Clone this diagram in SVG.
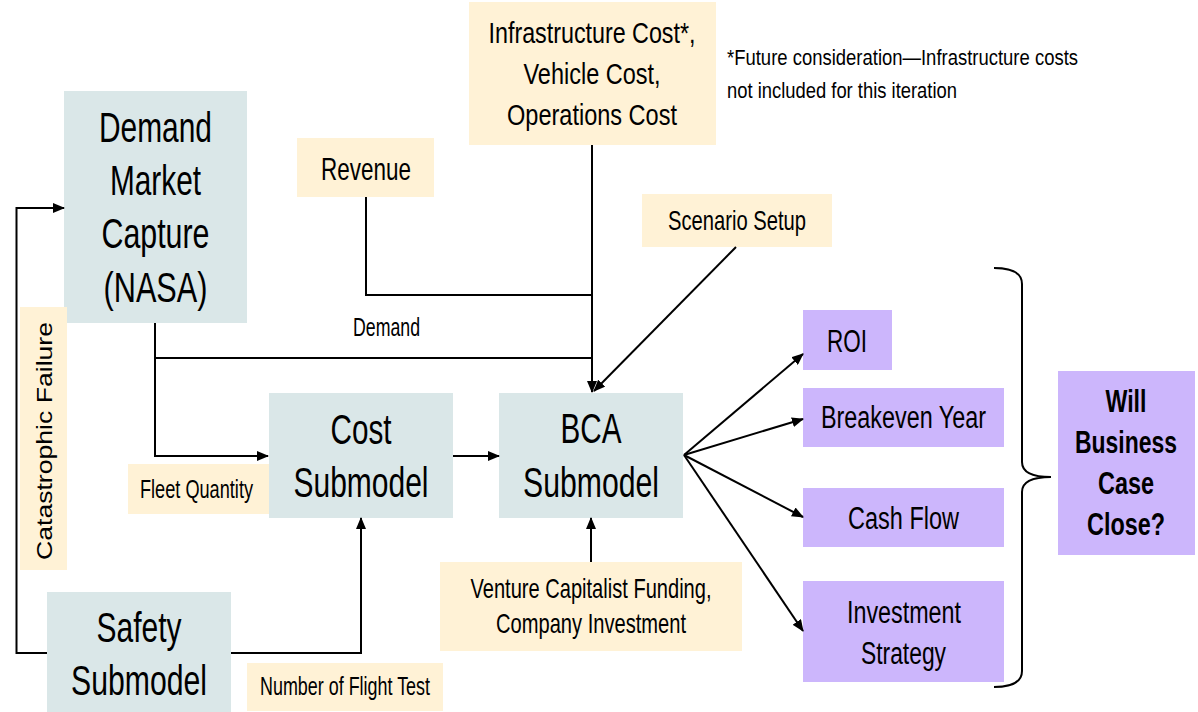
<svg xmlns="http://www.w3.org/2000/svg" width="1198" height="712" viewBox="0 0 1198 712">
  <defs>
    <style>
      .model { fill: #DAE7E8; }
      .input { fill: #FFF2D6; }
      .output { fill: #CCB6FC; }
      text { font-family: "Liberation Sans", Arial, sans-serif; fill: #000; text-anchor: middle; }
      .big { font-size: 42px; }
      .mid { font-size: 31px; }
      .small { font-size: 25px; }
      .bold { font-size: 32px; font-weight: bold; }
      .note { font-size: 22px; text-anchor: start; }
      .wire { fill: none; stroke: #000; stroke-width: 2; }
      .arrow { marker-end: url(#head); }
    </style>
    <marker id="head" markerUnits="userSpaceOnUse" markerWidth="12" markerHeight="10" refX="11" refY="5" orient="auto">
      <path d="M0,0 L12,5 L0,10 z" fill="#000"/>
    </marker>
  </defs>

  <rect width="1198" height="712" fill="#fff"/>

  <!-- submodels -->
  <g id="demand">
    <rect class="model" x="64" y="91" width="183" height="232"/>
    <text class="big" x="155.5" y="142" textLength="113" lengthAdjust="spacingAndGlyphs">Demand</text>
    <text class="big" x="155.5" y="195" textLength="91" lengthAdjust="spacingAndGlyphs">Market</text>
    <text class="big" x="155.5" y="248" textLength="108" lengthAdjust="spacingAndGlyphs">Capture</text>
    <text class="big" x="155.5" y="302" textLength="104" lengthAdjust="spacingAndGlyphs">(NASA)</text>
  </g>
  <g id="cost">
    <rect class="model" x="269" y="393" width="184" height="125"/>
    <text class="big" x="361" y="444" textLength="61" lengthAdjust="spacingAndGlyphs">Cost</text>
    <text class="big" x="361" y="497" textLength="135" lengthAdjust="spacingAndGlyphs">Submodel</text>
  </g>
  <g id="bca">
    <rect class="model" x="499" y="393" width="184" height="125"/>
    <text class="big" x="591" y="443" textLength="61" lengthAdjust="spacingAndGlyphs">BCA</text>
    <text class="big" x="591" y="497" textLength="136" lengthAdjust="spacingAndGlyphs">Submodel</text>
  </g>
  <g id="safety">
    <rect class="model" x="47" y="592" width="184" height="120"/>
    <text class="big" x="139" y="642" textLength="85" lengthAdjust="spacingAndGlyphs">Safety</text>
    <text class="big" x="139" y="695" textLength="136" lengthAdjust="spacingAndGlyphs">Submodel</text>
  </g>

  <!-- inputs -->
  <g id="costs">
    <rect class="input" x="469" y="2" width="247" height="143"/>
    <text style="font-size:30px" x="592" y="43" textLength="207" lengthAdjust="spacingAndGlyphs">Infrastructure Cost*,</text>
    <text style="font-size:30px" x="592" y="84" textLength="137" lengthAdjust="spacingAndGlyphs">Vehicle Cost,</text>
    <text style="font-size:30px" x="592" y="125" textLength="170" lengthAdjust="spacingAndGlyphs">Operations Cost</text>
  </g>
  <g id="footnote">
    <text class="note" x="727" y="65" textLength="351" lengthAdjust="spacingAndGlyphs">*Future consideration—Infrastructure costs</text>
    <text class="note" x="727" y="98" textLength="230" lengthAdjust="spacingAndGlyphs">not included for this iteration</text>
  </g>
  <g id="revenue">
    <rect class="input" x="297" y="138" width="137" height="59"/>
    <text style="font-size:32px" x="366" y="180" textLength="90" lengthAdjust="spacingAndGlyphs">Revenue</text>
  </g>
  <g id="scenario">
    <rect class="input" x="642" y="194" width="190" height="53"/>
    <text style="font-size:28px" x="737" y="230" textLength="138" lengthAdjust="spacingAndGlyphs">Scenario Setup</text>
  </g>
  <g id="fleet">
    <rect class="input" x="128" y="464" width="141" height="50"/>
    <text style="font-size:26px" x="196.5" y="498" textLength="113" lengthAdjust="spacingAndGlyphs">Fleet Quantity</text>
  </g>
  <g id="catastrophic">
    <rect class="input" x="20" y="307" width="47" height="263"/>
    <text style="font-size:22px" transform="translate(52 441) rotate(-90)" x="0" y="0" textLength="238" lengthAdjust="spacingAndGlyphs">Catastrophic Failure</text>
  </g>
  <g id="flighttest">
    <rect class="input" x="247" y="663" width="196" height="48"/>
    <text class="small" x="345" y="695" textLength="170" lengthAdjust="spacingAndGlyphs">Number of Flight Test</text>
  </g>
  <g id="funding">
    <rect class="input" x="440" y="562" width="302" height="89"/>
    <text style="font-size:28px" x="591" y="598" textLength="241" lengthAdjust="spacingAndGlyphs">Venture Capitalist Funding,</text>
    <text style="font-size:28px" x="591" y="633" textLength="190" lengthAdjust="spacingAndGlyphs">Company Investment</text>
  </g>

  <!-- outputs -->
  <g id="roi">
    <rect class="output" x="803" y="310" width="89" height="60"/>
    <text class="mid" x="847" y="352" textLength="40" lengthAdjust="spacingAndGlyphs">ROI</text>
  </g>
  <g id="breakeven">
    <rect class="output" x="803" y="388" width="201" height="59"/>
    <text class="mid" x="903.5" y="428" textLength="165" lengthAdjust="spacingAndGlyphs">Breakeven Year</text>
  </g>
  <g id="cashflow">
    <rect class="output" x="803" y="488" width="201" height="59"/>
    <text class="mid" x="903.5" y="529" textLength="111" lengthAdjust="spacingAndGlyphs">Cash Flow</text>
  </g>
  <g id="strategy">
    <rect class="output" x="803" y="581" width="201" height="101"/>
    <text class="mid" x="904" y="623" textLength="114" lengthAdjust="spacingAndGlyphs">Investment</text>
    <text class="mid" x="903.5" y="664" textLength="85" lengthAdjust="spacingAndGlyphs">Strategy</text>
  </g>
  <g id="verdict">
    <rect class="output" x="1058" y="371" width="137" height="184"/>
    <text class="bold" x="1126" y="412" textLength="41" lengthAdjust="spacingAndGlyphs">Will</text>
    <text class="bold" x="1126" y="453" textLength="102" lengthAdjust="spacingAndGlyphs">Business</text>
    <text class="bold" x="1126" y="494" textLength="56" lengthAdjust="spacingAndGlyphs">Case</text>
    <text class="bold" x="1126" y="535" textLength="78" lengthAdjust="spacingAndGlyphs">Close?</text>
  </g>

  <!-- connectors -->
  <g id="connectors">
    <path class="wire" d="M366 197 V295 H592"/>
    <path class="wire arrow" d="M592 145 V392"/>
    <path class="wire" d="M155 358 H592"/>
    <path class="wire arrow" d="M155 323 V456 H268"/>
    <text class="small" x="386.5" y="336" textLength="67" lengthAdjust="spacingAndGlyphs">Demand</text>
    <path class="wire arrow" d="M736 247 L594 391"/>
    <path class="wire arrow" d="M453 456 H499"/>
    <path class="wire arrow" d="M231 653 H361 V518"/>
    <path class="wire arrow" d="M47 653 H16.5 V208 H64"/>
    <path class="wire arrow" d="M591 562 V518"/>
    <path class="wire arrow" d="M684 455 L803 354"/>
    <path class="wire arrow" d="M684 455 L803 419"/>
    <path class="wire arrow" d="M684 455 L803 517"/>
    <path class="wire arrow" d="M684 455 L803 631"/>
    <path class="wire" d="M994 268 Q1022 268 1022 284 V462 Q1022 477 1051 477 Q1022 477 1022 492 V671 Q1022 687 994 687"/>
  </g>
</svg>
